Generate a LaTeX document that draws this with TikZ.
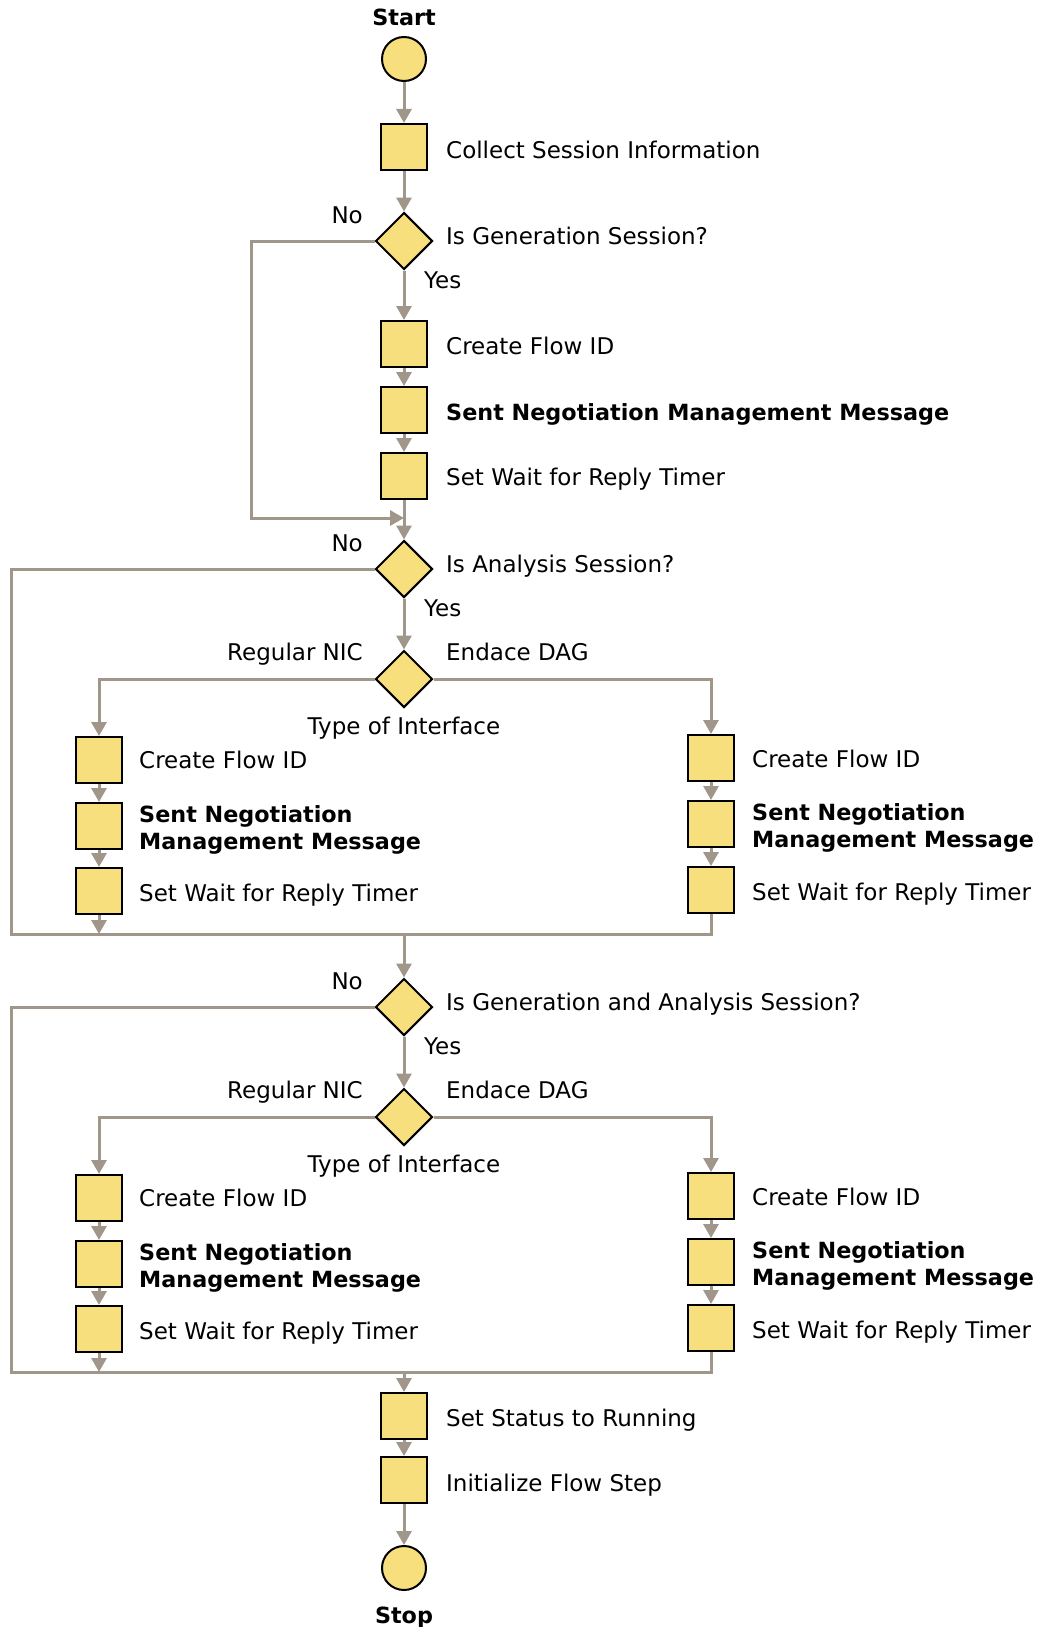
\documentclass[tikz,border=0pt]{standalone}
\usepackage{fontspec}
\setmainfont{DejaVu Sans}
\usetikzlibrary{shapes.geometric,arrows.meta}
\definecolor{boxfill}{RGB}{247,223,125}
\definecolor{flowline}{RGB}{160,150,138}
\newcommand{\regfont}{\fontsize{23}{27}\selectfont}
\newcommand{\boldfont}{\fontsize{22.3}{27}\selectfont\bfseries}
\newcommand{\twolines}[2]{\begin{tabular}[t]{@{}l@{}}#1\\#2\end{tabular}}
\begin{document}
\begin{tikzpicture}[x=1pt,y=-1pt,
  font=\regfont,
  stepbox/.style={rectangle, draw=black, line width=2pt, fill=boxfill,
    minimum width=46pt, minimum height=46pt, inner sep=0pt},
  decide/.style={diamond, draw=black, line width=2pt, fill=boxfill,
    minimum width=57pt, minimum height=57pt, inner sep=0pt},
  term/.style={circle, draw=black, line width=2pt, fill=boxfill,
    minimum size=44pt, inner sep=0pt},
  lbl/.style={anchor=base west, inner sep=0pt},
  lblr/.style={anchor=base east, inner sep=0pt},
  strong/.style={font=\boldfont},
  flow/.style={draw=flowline, line width=3pt, -{Triangle[width=15pt,length=14pt]}},
  wire/.style={draw=flowline, line width=3pt},
]
\useasboundingbox (0,0) rectangle (1038,1627);

% ---- main column, first part
\node[anchor=base, inner sep=0pt, strong] (tstart) at (404,26) {Start};
\node[term] (start) at (404,59) {};
\node[stepbox] (collect) at (404,147) {};
\node[lbl] (tcollect) at (446,158) {Collect Session Information};

\node[decide] (d1) at (404,241) {};
\node[lblr] (d1no) at (363,223) {No};
\node[lbl] (d1q) at (446,244) {Is Generation Session?};
\node[lbl] (d1yes) at (424,288) {Yes};

\node[stepbox] (cf) at (404,344) {};
\node[lbl] (tcf) at (446,354) {Create Flow ID};
\node[stepbox] (sn) at (404,410) {};
\node[lbl, strong] (tsn) at (446,420) {Sent Negotiation Management Message};
\node[stepbox] (sw) at (404,476) {};
\node[lbl] (tsw) at (446,485) {Set Wait for Reply Timer};

\coordinate (k1) at (251,518);
\coordinate (j1) at (404,518);

\draw[flow] (start) -- (collect);
\draw[flow] (collect) -- (d1);
\draw[flow] (d1) -- (cf);
\draw[flow] (cf) -- (sn);
\draw[flow] (sn) -- (sw);
\draw[wire] (sw) -- (j1);
\draw[flow] (d1.west) -| (k1) -- (j1);

% ---- two interface branches, repeated for both session checks
\foreach \dy/\q/\nm in {0/{Is Analysis Session?}/a, 438/{Is Generation and Analysis Session?}/b} {
  \node[decide] (d2\nm) at (404,569+\dy) {};
  \node[lblr] (no\nm) at (363,551+\dy) {No};
  \node[lbl] (q\nm) at (446,572+\dy) {\q};
  \node[lbl] (yes\nm) at (424,616+\dy) {Yes};

  \node[decide] (d3\nm) at (404,679+\dy) {};
  \node[lblr] (nic\nm) at (363,660+\dy) {Regular NIC};
  \node[lbl] (dag\nm) at (446,660+\dy) {Endace DAG};
  \node[anchor=base, inner sep=0pt] (toi\nm) at (404,734+\dy) {Type of Interface};

  \node[stepbox] (lcf\nm) at (99,760+\dy) {};
  \node[lbl] (tlcf\nm) at (139,768+\dy) {Create Flow ID};
  \node[stepbox] (lsn\nm) at (99,826+\dy) {};
  \node[lbl, strong] (tlsn\nm) at (139,822+\dy) {\twolines{Sent Negotiation}{Management Message}};
  \node[stepbox] (lsw\nm) at (99,891+\dy) {};
  \node[lbl] (tlsw\nm) at (139,901+\dy) {Set Wait for Reply Timer};

  \node[stepbox] (rcf\nm) at (711,758+\dy) {};
  \node[lbl] (trcf\nm) at (752,767+\dy) {Create Flow ID};
  \node[stepbox] (rsn\nm) at (711,824+\dy) {};
  \node[lbl, strong] (trsn\nm) at (752,820+\dy) {\twolines{Sent Negotiation}{Management Message}};
  \node[stepbox] (rsw\nm) at (711,890+\dy) {};
  \node[lbl] (trsw\nm) at (752,900+\dy) {Set Wait for Reply Timer};

  \coordinate (ml\nm) at (11,934+\dy);
  \coordinate (mr\nm) at (711,934+\dy);
  \coordinate (mc\nm) at (99,934+\dy);
  \coordinate (mm\nm) at (404,934+\dy);

  \draw[flow] (d2\nm) -- (d3\nm);
  \draw[flow] (d3\nm.west) -| (lcf\nm);
  \draw[flow] (d3\nm.east) -| (rcf\nm);
  \draw[flow] (lcf\nm) -- (lsn\nm);
  \draw[flow] (lsn\nm) -- (lsw\nm);
  \draw[flow] (rcf\nm) -- (rsn\nm);
  \draw[flow] (rsn\nm) -- (rsw\nm);
  \draw[flow] (lsw\nm) -- (mc\nm);
  \draw[wire] (d2\nm.west) -| (ml\nm) -- (mr\nm) -- (rsw\nm);
}

\draw[flow] (j1) -- (d2a);
\draw[flow] (mma) -- (d2b);

% ---- closing steps
\node[stepbox] (status) at (404,1416) {};
\node[lbl] (tstatus) at (446,1426) {Set Status to Running};
\node[stepbox] (init) at (404,1480) {};
\node[lbl] (tinit) at (446,1491) {Initialize Flow Step};
\node[term] (stop) at (404,1568) {};
\node[anchor=base, inner sep=0pt, strong] (tstop) at (404,1623) {Stop};

\draw[flow] (mmb) -- (status);
\draw[flow] (status) -- (init);
\draw[flow] (init) -- (stop);
\end{tikzpicture}
\end{document}
